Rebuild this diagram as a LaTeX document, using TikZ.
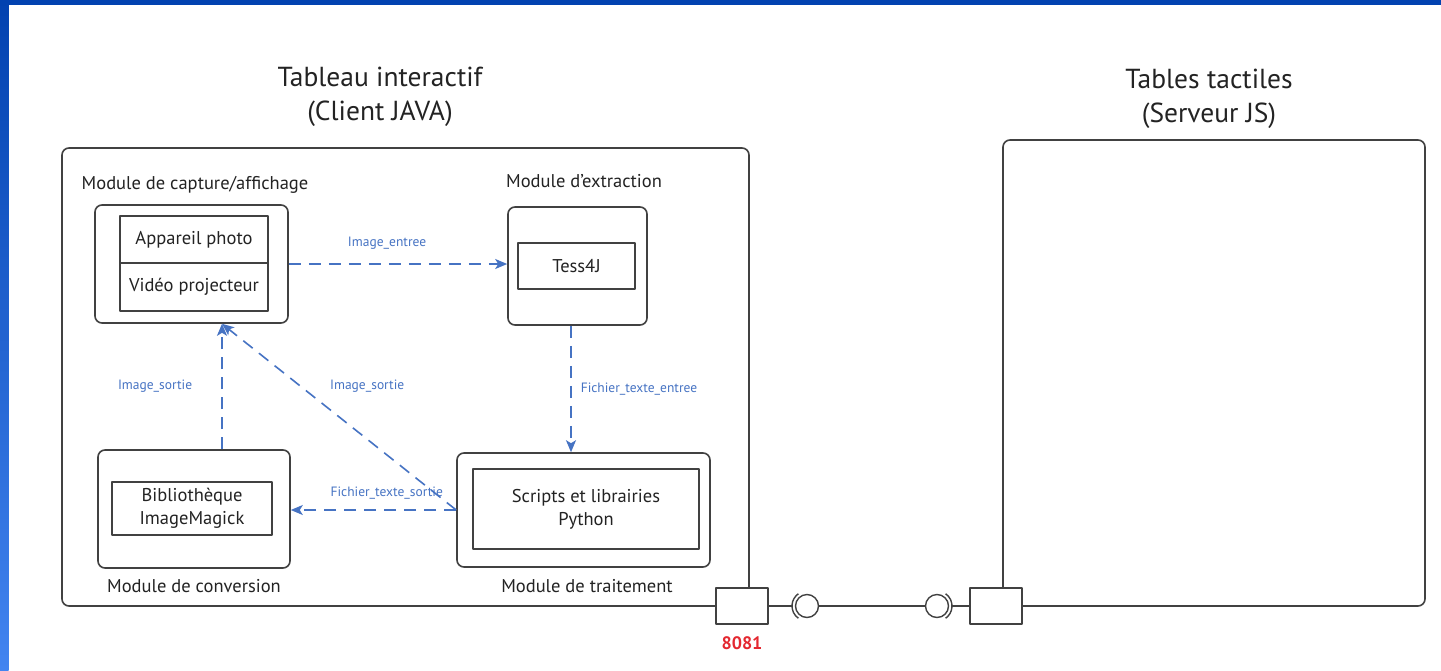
\documentclass[tikz,border=0pt]{standalone}
\usepackage{fontspec}
\setmainfont{PT Sans}
\usepackage{tikz}
\usetikzlibrary{arrows.meta,positioning}

\definecolor{linegray}{RGB}{65,65,65}
\definecolor{textgray}{RGB}{35,35,35}
\definecolor{flowblue}{RGB}{70,115,195}
\definecolor{portred}{RGB}{228,40,48}
\definecolor{slideblue}{RGB}{2,66,176}
\definecolor{slidelight}{RGB}{66,132,240}

\newcommand{\headfont}{\fontsize{27.5}{34}\selectfont}
\newcommand{\modfont}{\fontsize{18.5}{23}\selectfont}
\newcommand{\flowfont}{\fontsize{13.5}{15}\selectfont}

\begin{document}
\begin{tikzpicture}[x=1pt, y=-1pt, line join=round,
		module_style/.style={draw=linegray, line width=1.6pt, rounded corners=7pt, inner sep=0pt},
		part_style/.style={draw=linegray, line width=1.4pt, inner sep=0pt, align=center, text=textgray, font=\modfont},
		label_style/.style={text=textgray, font=\modfont},
		title_style/.style={text=textgray, align=center, font=\headfont},
		flow_style/.style={draw=flowblue, line width=1.6pt, dash pattern=on 12pt off 8pt,
			-{Stealth[length=12pt, width=10pt, inset=3pt]}},
		flow_label/.style={text=flowblue, font=\flowfont, inner sep=1pt},
		port_style/.style={draw=linegray, fill=white, line width=1.4pt, minimum width=52pt, minimum height=36pt, inner sep=0pt},
		ball_style/.style={circle, draw=linegray, fill=white, line width=1.4pt, minimum size=23pt, inner sep=0pt},
		wire_style/.style={draw=linegray, line width=1.4pt}]

		% slide frame
		\fill[white] (0,0) rectangle (1441,670);
		\useasboundingbox (0,0) rectangle (1441,670);
		\shade[top color=slideblue, bottom color=slidelight] (0,0) rectangle (8.5,670);
		\fill[slideblue] (0,0) rectangle (1441,4.7);

		% the two applications
		\node[module_style, minimum width=687pt, minimum height=458pt] (client) at (405.5,377) {};
		\node[module_style, minimum width=422pt, minimum height=466pt] (server) at (1214,373) {};
		\node[title_style] (client_title) at (380,97) {Tableau interactif\\(Client JAVA)};
		\node[title_style] (server_title) at (1209,99) {Tables tactiles\\(Serveur JS)};

		% modules of the client
		\node[module_style, minimum width=193pt, minimum height=118pt] (capture) at (191.5,264) {};
		\node[module_style, minimum width=139pt, minimum height=118pt] (extract) at (577.5,266) {};
		\node[module_style, minimum width=192pt, minimum height=118pt] (convert) at (194,509) {};
		\node[module_style, minimum width=253pt, minimum height=114pt] (trait) at (583.5,510) {};

		\node[label_style] (capture_label) at (195,185) {Module de capture/affichage};
		\node[label_style] (extract_label) at (584,181) {Module d’extraction};
		\node[label_style] (convert_label) at (194,586) {Module de conversion};
		\node[label_style] (trait_label) at (587,586) {Module de traitement};

		\node[part_style, minimum width=148pt, minimum height=47pt] (camera) at (194,239.5) {Appareil photo};
		\node[part_style, minimum width=148pt, minimum height=48pt] (projector) at (194,287) {Vidéo projecteur};
		\node[part_style, minimum width=117pt, minimum height=46pt] (tess) at (576.5,266) {Tess4J};
		\node[part_style, minimum width=160pt, minimum height=53pt] (magick) at (192,508.5) {Bibliothèque\\ImageMagick};
		\node[part_style, minimum width=226pt, minimum height=80pt] (python) at (586,509) {Scripts et librairies\\Python};

		% data flows
		\coordinate (capin) at ([xshift=30.5pt]capture.south);
		\draw[flow_style] (capture.east) -- (capture.east -| extract.west)
			node[flow_label, pos=0.45, above=13pt] {Image\_entree};
		\draw[flow_style] ([xshift=-6.5pt]extract.south) -- ([xshift=-6.5pt]extract.south |- trait.north)
			node[flow_label, midway, right=8pt] {Fichier\_texte\_entree};
		\draw[flow_style] (capin |- convert.north) -- (capin)
			node[flow_label, midway, left=28pt] {Image\_sortie};
		\draw[flow_style] (trait.west) -- (capin)
			node[flow_label, pos=0.38, yshift=53pt] {Image\_sortie};
		\draw[flow_style] (trait.west) -- (trait.west -| convert.east)
			node[flow_label, pos=0.42, above=9pt] {Fichier\_texte\_sortie};

		% ports and assembly connector
		\node[ball_style] (lball) at (807,606) {};
		\node[ball_style] (rball) at (937,606) {};
		\coordinate (lsock) at ([xshift=-15pt]lball.center);
		\coordinate (rsock) at ([xshift=15pt]rball.center);
		\draw[wire_style] (lball.east) -- (rball.west);
		\draw[wire_style] ([shift={(125:15)}]lball.center) arc[start angle=125, end angle=235, radius=15];
		\draw[wire_style] ([shift={(-55:15)}]rball.center) arc[start angle=-55, end angle=55, radius=15];
		\node[port_style] (lport) at (742,606) {};
		\node[port_style] (rport) at (996,606) {};
		\draw[wire_style] (lport.east) -- (lsock);
		\draw[wire_style] (rsock) -- (rport.west);
		\node[text=portred, font=\fontsize{18}{20}\selectfont\bfseries, below=8pt of lport] (port_num) {8081};

\end{tikzpicture}
\end{document}
